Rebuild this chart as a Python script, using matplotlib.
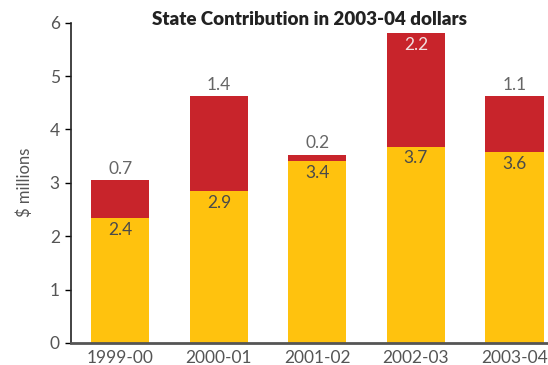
import matplotlib
matplotlib.use("Agg")
import matplotlib.pyplot as plt
import numpy as np

years = ["1999-00", "2000-01", "2001-02", "2002-03", "2003-04"]
base = [2.34, 2.84, 3.40, 3.68, 3.57]
state = [0.71, 1.78, 0.13, 2.13, 1.05]
base_labels = ["2.4", "2.9", "3.4", "3.7", "3.6"]
state_labels = ["0.7", "1.4", "0.2", "2.2", "1.1"]

plt.rcParams["font.family"] = ["Lato", "DejaVu Sans"]

fig = plt.figure(figsize=(5.48, 3.65), dpi=100)
ax = fig.add_axes([0.1296, 0.0603, 0.8704, 0.8777])

x = np.arange(len(years))
w = 0.59
ax.bar(x, base, width=w, color="#FFC20E")
ax.bar(x, state, width=w, bottom=base, color="#C8242B")

for i in range(len(years)):
    top = base[i] + state[i]
    ax.text(x[i], base[i] - 0.07, base_labels[i], ha="center", va="top",
            fontsize=12.5, color="#4a4a4a")
    if top > 5.5:
        ax.text(x[i], top - 0.08, state_labels[i], ha="center", va="top",
                fontsize=12.5, color="#f2e0e0")
    else:
        ax.text(x[i], top + 0.06, state_labels[i], ha="center", va="bottom",
                fontsize=12.5, color="#666666")

ax.set_xlim(-0.5, 4.34)
ax.set_ylim(0, 6)
ax.set_xticks(x)
ax.set_xticklabels(years)
ax.set_yticks(range(7))
ax.tick_params(axis="x", length=0, labelsize=12.5, labelcolor="#555555", pad=5)
ax.tick_params(axis="y", length=4, width=1, labelsize=12.5, labelcolor="#555555", pad=4)
ax.spines["top"].set_visible(False)
ax.spines["right"].set_visible(False)
ax.spines["left"].set_color("#222222")
ax.spines["left"].set_linewidth(1.2)
ax.spines["bottom"].set_color("#555555")
ax.spines["bottom"].set_linewidth(2)
ax.set_ylabel("$ millions", fontsize=12, color="#555555", labelpad=12)
ax.set_title("State Contribution in 2003-04 dollars", fontsize=13.5, fontweight="heavy",
             color="#222222", pad=-2, y=1.0)

fig.savefig("out.png", dpi=100)
